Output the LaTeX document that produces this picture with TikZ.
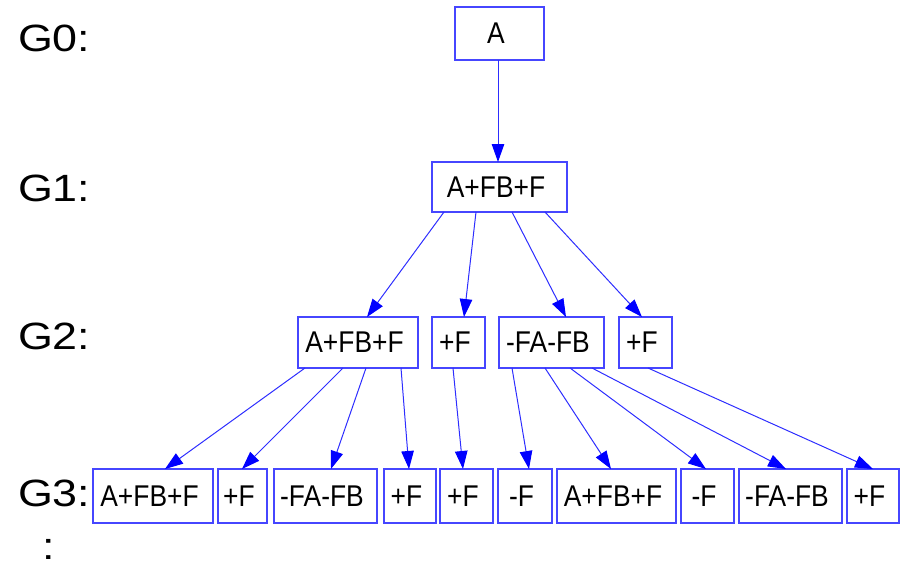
\documentclass[tikz,border=0pt]{standalone}
\usepackage{fontspec}
\setmainfont{Liberation Sans}
\usetikzlibrary{arrows.meta,calc}
\definecolor{boxblue}{RGB}{70,70,255}
\definecolor{lineblue}{RGB}{45,45,255}
\definecolor{tipblue}{RGB}{0,0,255}
\newcommand{\bt}[1]{\hspace*{-7pt}\scalebox{0.88}[1]{#1}}
\newcommand{\gl}[1]{\scalebox{1.18}[1]{#1}}
\tikzset{
  gbox/.style={draw=boxblue, line width=1.5pt, rectangle, inner sep=0pt, outer sep=0pt,
    font=\fontsize{30}{30}\selectfont},
  glabel/.style={inner sep=0pt, outer sep=0pt, anchor=west, font=\fontsize{38}{38}\selectfont},
  conn/.style={draw=lineblue, line width=1pt, -{Triangle[length=18pt,width=12.5pt,color=tipblue]}},
}
\begin{document}
\begin{tikzpicture}[x=1pt,y=-1pt]
\useasboundingbox (0,0) rectangle (905,565);
% level labels
\node[glabel] (l0) at (18,38.5) {\gl{G0:}};
\node[glabel] (l1) at (18,188.5) {\gl{G1:}};
\node[glabel] (l2) at (18,336.5) {\gl{G2:}};
\node[glabel] (l3) at (18,493.5) {\gl{G3:}};
\node[glabel, anchor=base west] (dots) at (42,559.5) {\gl{:}};
% G0
\node[gbox, minimum width=89pt, minimum height=53pt] (a) at (499.5,33.5) {\bt{A}};
% G1
\node[gbox, minimum width=135pt, minimum height=50pt] (g1) at (499.5,187) {\bt{A+FB+F}};
% G2
\node[gbox, minimum width=120pt, minimum height=51pt] (b1) at (358,342.5) {\bt{A+FB+F}};
\node[gbox, minimum width=53pt, minimum height=51pt] (b2) at (458.5,342.5) {\bt{+F}};
\node[gbox, minimum width=105pt, minimum height=51pt] (b3) at (551.5,342.5) {\bt{-FA-FB}};
\node[gbox, minimum width=53pt, minimum height=51pt] (b4) at (645.5,342.5) {\bt{+F}};
% G3
\node[gbox, minimum width=120pt, minimum height=54pt] (c1) at (153,496) {\bt{A+FB+F}};
\node[gbox, minimum width=49pt, minimum height=54pt] (c2) at (242.5,496) {\bt{+F}};
\node[gbox, minimum width=103pt, minimum height=54pt] (c3) at (325.5,496) {\bt{-FA-FB}};
\node[gbox, minimum width=52pt, minimum height=54pt] (c4) at (410,496) {\bt{+F}};
\node[gbox, minimum width=53pt, minimum height=54pt] (c5) at (466.5,496) {\bt{+F}};
\node[gbox, minimum width=54pt, minimum height=54pt] (c6) at (525,496) {\bt{-F}};
\node[gbox, minimum width=119pt, minimum height=54pt] (c7) at (616.5,496) {\bt{A+FB+F}};
\node[gbox, minimum width=53pt, minimum height=54pt] (c8) at (707.5,496) {\bt{-F}};
\node[gbox, minimum width=103pt, minimum height=54pt] (c9) at (790.5,496) {\bt{-FA-FB}};
\node[gbox, minimum width=52pt, minimum height=54pt] (c10) at (873,496) {\bt{+F}};
% connectors G0 -> G1
\draw[conn] ([xshift=43pt]a.south west) -- ([xshift=66pt]g1.north west);
% G1 -> G2
\draw[conn] ([xshift=12pt]g1.south west) -- ([xshift=69pt]b1.north west);
\draw[conn] ([xshift=44pt]g1.south west) -- ([xshift=32pt]b2.north west);
\draw[conn] ([xshift=80pt]g1.south west) -- ([xshift=67pt]b3.north west);
\draw[conn] ([xshift=113pt]g1.south west) -- ([xshift=23pt]b4.north west);
% G2 -> G3
\draw[conn] ([xshift=7pt]b1.south west) -- ([xshift=72pt]c1.north west);
\draw[conn] ([xshift=45pt]b1.south west) -- ([xshift=24pt]c2.north west);
\draw[conn] ([xshift=68pt]b1.south west) -- ([xshift=57pt]c3.north west);
\draw[conn] ([xshift=103pt]b1.south west) -- ([xshift=25pt]c4.north west);
\draw[conn] ([xshift=21pt]b2.south west) -- ([xshift=23pt]c5.north west);
\draw[conn] ([xshift=13pt]b3.south west) -- ([xshift=31pt]c6.north west);
\draw[conn] ([xshift=46pt]b3.south west) -- ([xshift=54pt]c7.north west);
\draw[conn] ([xshift=71pt]b3.south west) -- ([xshift=25pt]c8.north west);
\draw[conn] ([xshift=93pt]b3.south west) -- ([xshift=47pt]c9.north west);
\draw[conn] ([xshift=29pt]b4.south west) -- ([xshift=26pt]c10.north west);
\end{tikzpicture}
\end{document}
